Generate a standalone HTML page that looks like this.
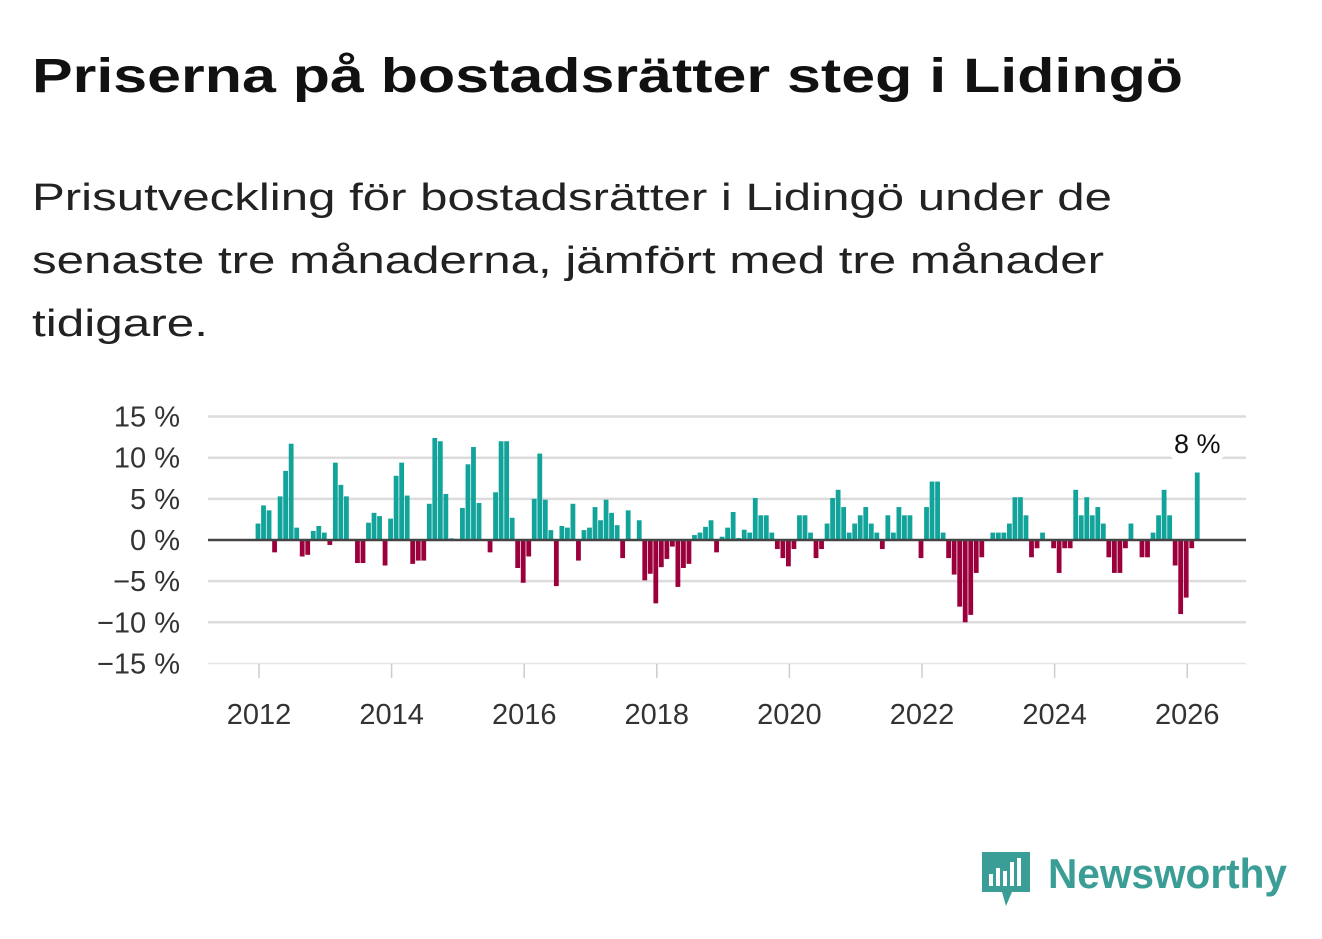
<!DOCTYPE html>
<html><head><meta charset="utf-8"><style>
body{margin:0;background:#fff;width:1322px;height:939px;overflow:hidden}
svg{display:block;font-family:"Liberation Sans",sans-serif}
</style></head><body>
<svg id="chart" width="1322" height="939" viewBox="0 0 1322 939">
<text x="32" y="92" font-size="48" font-weight="bold" fill="#111" textLength="1151" lengthAdjust="spacingAndGlyphs">Priserna på bostadsrätter steg i Lidingö</text>
<g font-size="38" fill="#222">
<text x="32" y="210" textLength="1080" lengthAdjust="spacingAndGlyphs">Prisutveckling för bostadsrätter i Lidingö under de</text>
<text x="32" y="273" textLength="1072" lengthAdjust="spacingAndGlyphs">senaste tre månaderna, jämfört med tre månader</text>
<text x="32" y="336" textLength="176" lengthAdjust="spacingAndGlyphs">tidigare.</text>
</g>
<g id="grid"></g><g id="bars"></g><g id="axes"></g>
<g>
<path d="M982 852h48v40h-18l-6 14-4-14h-20z" fill="#3b9e96"/>
<rect x="989" y="874" width="4" height="12" fill="#fff"/><rect x="996" y="868" width="4" height="18" fill="#fff"/><rect x="1003" y="871" width="4" height="15" fill="#fff"/><rect x="1010" y="862" width="4" height="24" fill="#fff"/><rect x="1017" y="858" width="4" height="28" fill="#fff"/>
<text x="1048" y="888" font-size="42" font-weight="bold" fill="#3b9e96" textLength="239" lengthAdjust="spacingAndGlyphs">Newsworthy</text>
</g>
</svg>
<script>
const values=[2.0,4.2,3.6,-1.5,5.3,8.4,11.7,1.5,-2.0,-1.8,1.1,1.7,0.9,-0.6,9.4,6.7,5.3,0,-2.8,-2.8,2.1,3.3,2.9,-3.1,2.6,7.8,9.4,5.4,-2.9,-2.5,-2.5,4.4,12.4,12.0,5.6,0.2,0,3.9,9.2,11.3,4.5,0,-1.5,5.8,
12.0,12.0,2.7,-3.4,-5.2,-2.0,5.0,10.5,4.9,1.2,-5.6,1.7,1.5,4.4,-2.5,1.2,1.5,4.0,2.4,4.9,3.3,1.8,-2.2,3.6,0,2.4,
-4.9,-4.1,-7.7,-3.3,-2.3,-0.8,-5.7,-3.4,-2.9,0.6,0.9,1.6,2.4,-1.5,0.4,1.5,3.4,
0.25,1.25,0.9,5.1,3.0,3.0,0.9,-1.1,-2.2,-3.2,-1.1,3.0,3.0,0.9,-2.2,-1.1,2.0,5.1,6.1,4.0,0.9,2.0,3.0,4.0,2.0,0.9,-1.1,3.0,0.9,4.0,3.0,3.0,0,-2.2,4.0,7.1,7.1,0.9,-2.2,-4.2,-8.1,-10.0,-9.1,
-4.0,-2.1,0,0.9,0.9,0.9,2.0,5.2,5.2,3.0,-2.1,-1.0,0.9,0,-1.0,-4.0,-1.0,-1.0,6.1,3.0,5.2,3.0,4.0,2.0,-2.1,-4.0,-4.0,-1.0,2.0,0,-2.1,-2.1,0.9,3.0,6.1,3.0,-3.1,-9.0,-7.0,-1.0,8.2];
const startYear=2012, startMonth=0;
const yTicks=[15,10,5,0,-5,-10,-15];
const yTickLabels=["15 %","10 %","5 %","0 %","−5 %","−10 %","−15 %"];
const xTicks=[2012,2014,2016,2018,2020,2022,2024,2026];
const lastLabel="8 %";
const NS="http://www.w3.org/2000/svg";
const y=v=>540-v*8.23;
const x=t=>259+(t-2012)*66.3;
function mk(tag,attrs,parent){const e=document.createElementNS(NS,tag);for(const k in attrs)e.setAttribute(k,attrs[k]);parent.appendChild(e);return e;}
const grid=document.getElementById('grid'),bars=document.getElementById('bars'),axes=document.getElementById('axes');
yTicks.forEach((t,i)=>{
 if(t!==0){const l=mk('line',{x1:208,x2:1246,y1:y(t),y2:y(t),stroke:t===-15?'#e6e6e6':'#dcdcdc','stroke-width':t===-15?1.5:2.5},grid);
 
 }
 const tx=mk('text',{x:180,y:y(t)+10,'font-size':29,'text-anchor':'end',fill:'#333'},axes);tx.textContent=yTickLabels[i];
 
 
});
values.forEach((v,i)=>{
 const t=startYear+(startMonth+i)/12;
 const cx=x(t)-1;
 const r=mk('rect',{x:cx-2.4,y:Math.min(y(v),540),width:4.8,height:Math.abs(y(v)-540),fill:v>=0?'#12a39a':'#9b003c'},bars);
 
 
});
const zl=mk('line',{x1:208,x2:1246,y1:540,y2:540,stroke:'#444','stroke-width':2.5},axes);


xTicks.forEach(t=>{
 const tk=mk('line',{x1:x(t),x2:x(t),y1:664,y2:678,stroke:'#ccc','stroke-width':1.5},axes);
 
 
 const tx=mk('text',{x:x(t),y:724,'font-size':29,'text-anchor':'middle',fill:'#333'},axes);tx.textContent=t;
 
 
});
const li=values.length-1;
const lx=x(startYear+(startMonth+li)/12)-1;
const bg=mk('rect',{x:lx-28,y:428,width:56,height:32,rx:8,fill:'#fff'},axes);


const lt=mk('text',{x:lx,y:453,'font-size':27,'text-anchor':'middle',fill:'#111'},axes);lt.textContent=lastLabel;


</script>
</body></html>
